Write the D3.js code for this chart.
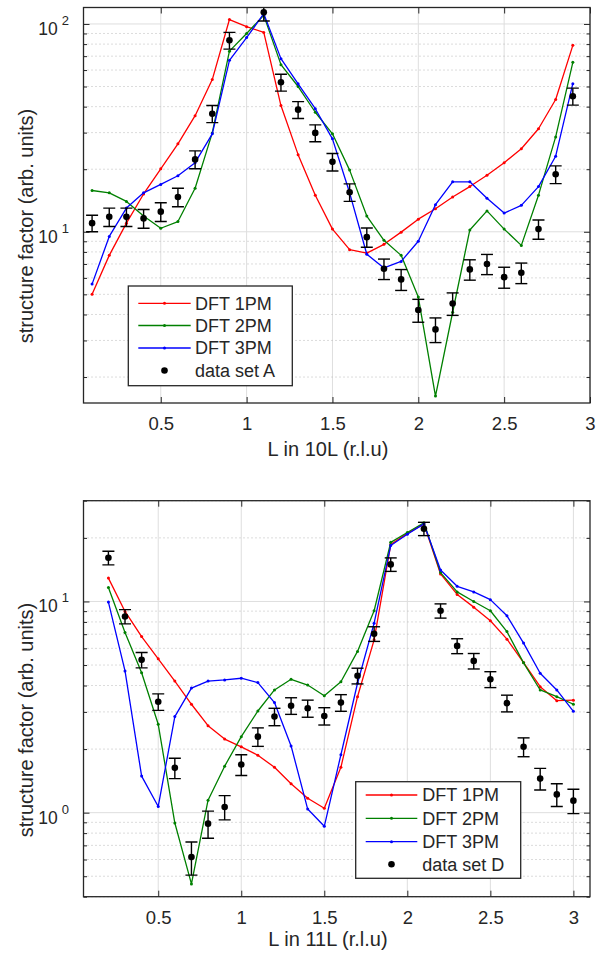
<!DOCTYPE html>
<html><head><meta charset="utf-8">
<script src="https://cdn.jsdelivr.net/npm/d3@7"></script>
<style>
body{margin:0;background:#fff}
text{font-family:"Liberation Sans",Arial,Helvetica,sans-serif;fill:#262626}
</style>
</head><body>
<svg id="c" width="607" height="955"></svg>
<script>
// ---------- DATA: top panel (10L) ----------
const xDFT_A = [0.1,0.2,0.3,0.4,0.5,0.6,0.7,0.8,0.9,1.0,1.1,1.2,1.3,1.4,1.5,1.6,1.7,1.8,1.9,2.0,2.1,2.2,2.3,2.4,2.5,2.6,2.7,2.8,2.9];
const dft1PM_A = [5.0,7.7,11.0,15.2,20.1,26.5,36.2,54,105,97,91,40.5,23.5,15.0,10.3,8.2,7.9,8.7,9.96,11.5,12.9,14.7,16.5,18.7,21.5,25.1,31.3,43.3,78.9];
const dft2PM_A = [15.8,15.4,14.0,11.9,10.4,11.2,16.2,29.9,74,90,110,63.7,50,37.6,29.6,19.8,11.9,9.1,7.7,4.85,1.62,4.1,10.2,12.6,10.3,8.6,15.0,28.6,65.4];
const dft3PM_A = [5.6,9.5,13.0,15.4,16.9,18.6,21.5,29.6,66.8,86,112,68.1,51.5,39.1,28.0,15.4,7.8,6.7,7.2,9.0,13.5,17.4,17.4,14.5,12.3,13.4,16.5,23.1,51.6];
const xSetA   = [0.1,0.2,0.3,0.4,0.5,0.6,0.7,0.8,0.9,1.1,1.2,1.3,1.4,1.5,1.6,1.7,1.8,1.9,2.0,2.1,2.2,2.3,2.4,2.5,2.6,2.7,2.8,2.9];
const setA    = [11.0,11.8,11.8,11.6,12.5,14.7,22.3,37.0,83.4,113.7,52.4,38.7,29.9,21.7,15.5,9.42,6.64,5.9,4.2,3.39,4.52,6.59,7.0,6.05,6.35,10.3,18.9,44.9];
const errA    = [1.0,1.2,1.2,1.2,1.3,1.5,2.2,3.5,7.7,10.4,4.9,3.6,2.8,2.1,1.5,1.0,0.75,0.68,0.53,0.46,0.56,0.74,0.78,0.7,0.72,1.1,1.85,4.2];

// ---------- DATA: bottom panel (11L) ----------
const xDFT_D = [0.2,0.3,0.4,0.5,0.6,0.7,0.8,0.9,1.0,1.1,1.2,1.3,1.4,1.5,1.6,1.7,1.8,1.9,2.0,2.1,2.2,2.3,2.4,2.5,2.6,2.7,2.8,2.9,3.0];
const dft1PM_D = [12.9,8.97,6.82,5.35,4.2,3.26,2.58,2.23,2.05,1.87,1.64,1.37,1.17,1.05,1.64,3.54,6.58,18.6,21.0,23.3,13.5,10.8,9.4,8.1,6.63,5.14,3.95,3.39,3.41];
const dft2PM_D = [11.65,7.13,4.6,2.62,0.893,0.46,1.145,1.66,2.29,3.03,3.81,4.28,4.02,3.58,4.17,5.8,9.04,19.05,21.2,23.6,13.7,11.1,10.0,9.04,7.2,5.12,3.81,3.54,3.26];
const dft3PM_D = [9.93,4.69,1.49,1.07,2.85,3.89,4.2,4.25,4.33,4.13,3.32,2.07,1.04,0.862,1.88,4.1,7.89,18.4,20.8,23.3,14.1,11.8,11.1,10.2,8.55,6.35,4.57,3.81,3.02];
const xSetD   = [0.2,0.3,0.4,0.5,0.6,0.7,0.8,0.9,1.0,1.1,1.2,1.3,1.4,1.5,1.6,1.7,1.8,1.9,2.1,2.2,2.3,2.4,2.5,2.6,2.7,2.8,2.9,3.0];
const setD    = [16.1,8.49,5.29,3.35,1.63,0.616,0.887,1.064,1.69,2.29,2.85,3.21,3.12,2.87,3.32,4.45,7.03,14.98,22.1,9.04,6.16,5.23,4.28,3.3,2.05,1.45,1.22,1.14];
const errD    = [1.2,0.66,0.44,0.3,0.18,0.11,0.13,0.14,0.19,0.23,0.27,0.29,0.29,0.27,0.3,0.38,0.56,1.1,1.6,0.7,0.5,0.44,0.37,0.3,0.21,0.17,0.15,0.15];

const xTicks = [0.5,1,1.5,2,2.5,3];
const seriesNames = ["DFT 1PM","DFT 2PM","DFT 3PM"];
const seriesColors = ["#ff0000","#008000","#0000ff"];

const svg = d3.select("#c");
const AX = "#262626";
const FT = 18.5, FL = 20, FG = 18;

function panel(cfg){
  const {l,t,r,b} = cfg.box;
  const x = d3.scaleLinear().domain(cfg.xDomain).range([l,r]);
  const y = d3.scaleLog().domain(cfg.yDomain).range([b,t]);
  const g = svg.append("g");
  const clipId = "clip"+cfg.id;
  g.append("clipPath").attr("id",clipId).append("rect").attr("x",l).attr("y",t).attr("width",r-l).attr("height",b-t);

  const [y0,y1] = cfg.yDomain;
  const majorY = [], minorY = [];
  for(let e=Math.floor(Math.log10(y0)); e<=Math.ceil(Math.log10(y1)); e++){
    for(let m=1;m<=9;m++){
      const v = m*Math.pow(10,e);
      if(v<y0*0.999||v>y1*1.001) continue;
      (m===1?majorY:minorY).push(v);
    }
  }
  // grid
  g.selectAll(".gx").data(xTicks).join("line").attr("x1",d=>x(d)).attr("x2",d=>x(d)).attr("y1",t).attr("y2",b)
    .attr("stroke","#dedede").attr("stroke-width",1);
  g.selectAll(".gmin").data(minorY).join("line").attr("x1",l).attr("x2",r).attr("y1",d=>y(d)).attr("y2",d=>y(d))
    .attr("stroke","#b8b8b8").attr("stroke-width",1).attr("stroke-dasharray","1,3");
  g.selectAll(".gmaj").data(majorY).join("line").attr("x1",l).attr("x2",r).attr("y1",d=>y(d)).attr("y2",d=>y(d))
    .attr("stroke","#dedede").attr("stroke-width",1);

  const ax = [
    g.append("g").attr("transform",`translate(0,${b})`).call(d3.axisBottom(x).tickValues(xTicks).tickSize(-6).tickPadding(14).tickFormat(d3.format("~g"))),
    g.append("g").attr("transform",`translate(0,${t})`).call(d3.axisTop(x).tickValues(xTicks).tickSize(-6).tickFormat("")),
    g.append("g").attr("transform",`translate(${l},0)`).call(d3.axisLeft(y).tickValues(majorY).tickSize(-6).tickFormat("")),
    g.append("g").attr("transform",`translate(${r},0)`).call(d3.axisRight(y).tickValues(majorY).tickSize(-6).tickFormat("")),
    g.append("g").attr("transform",`translate(${l},0)`).call(d3.axisLeft(y).tickValues(minorY).tickSize(-3.5).tickFormat("")),
    g.append("g").attr("transform",`translate(${r},0)`).call(d3.axisRight(y).tickValues(minorY).tickSize(-3.5).tickFormat(""))
  ];
  ax.forEach(a=>{
    a.select(".domain").remove();
    a.attr("font-size",FT).attr("font-family",null);
    a.selectAll(".tick line").attr("stroke",AX).attr("stroke-width",1);
    a.selectAll(".tick text").attr("font-size",FT).attr("fill",AX);
  });

  // y tick labels 10^n
  majorY.forEach(v=>{
    const e = Math.round(Math.log10(v));
    const tx = g.append("text").attr("x",69).attr("y",y(v)+11).attr("text-anchor","end").attr("font-size",17.5);
    tx.append("tspan").text("10");
    tx.append("tspan").attr("font-size",13).attr("dx",4).attr("dy",-10).text(String(e));
  });

  const pg = g.append("g").attr("clip-path",`url(#${clipId})`);
  cfg.series.forEach((s,i)=>{
    const pts = cfg.xs.map((xx,k)=>[xx,s[k]]);
    pg.append("path").datum(pts)
      .attr("d",d3.line().x(d=>x(d[0])).y(d=>y(d[1])))
      .attr("fill","none").attr("stroke",seriesColors[i]).attr("stroke-width",1.3).attr("stroke-linejoin","round");
    pg.selectAll(null).data(pts).join("circle").attr("cx",d=>x(d[0])).attr("cy",d=>y(d[1])).attr("r",1.5).attr("fill",seriesColors[i]);
  });
  const dpts = cfg.dx.map((xx,k)=>({x:xx,v:cfg.dv[k],e:cfg.de[k]}));
  const eb = pg.selectAll(null).data(dpts).join("g").attr("stroke","#000").attr("stroke-width",1.4);
  eb.append("line").attr("x1",d=>x(d.x)).attr("x2",d=>x(d.x)).attr("y1",d=>y(d.v-d.e)).attr("y2",d=>y(d.v+d.e));
  eb.append("line").attr("x1",d=>x(d.x)-6).attr("x2",d=>x(d.x)+6).attr("y1",d=>y(d.v-d.e)).attr("y2",d=>y(d.v-d.e));
  eb.append("line").attr("x1",d=>x(d.x)-6).attr("x2",d=>x(d.x)+6).attr("y1",d=>y(d.v+d.e)).attr("y2",d=>y(d.v+d.e));
  pg.selectAll(null).data(dpts).join("circle").attr("cx",d=>x(d.x)).attr("cy",d=>y(d.v)).attr("r",3.3).attr("fill","#000");

  g.append("rect").attr("x",l).attr("y",t).attr("width",r-l).attr("height",b-t).attr("fill","none").attr("stroke",AX).attr("stroke-width",1.3);

  g.append("text").attr("x",cfg.xlabelX).attr("y",cfg.xlabelY).attr("text-anchor","middle").attr("font-size",FL).text(cfg.xlabel);
  g.append("text").attr("transform",`translate(33,${cfg.ylabelCY}) rotate(-90)`).attr("text-anchor","middle").attr("font-size",FL).text("structure factor (arb. units)");

  const L = cfg.legend;
  const lg = g.append("g");
  lg.append("rect").attr("x",L.x).attr("y",L.y).attr("width",L.w).attr("height",L.h).attr("fill","#fff").attr("stroke",AX).attr("stroke-width",1.3);
  const names = seriesNames.concat([cfg.dataName]);
  names.forEach((nm,i)=>{
    const ry = L.rows[i];
    if(i<3){
      lg.append("line").attr("x1",L.lx1).attr("x2",L.lx2).attr("y1",ry).attr("y2",ry).attr("stroke",seriesColors[i]).attr("stroke-width",1.3);
      lg.append("circle").attr("cx",(L.lx1+L.lx2)/2).attr("cy",ry).attr("r",1.5).attr("fill",seriesColors[i]);
    } else {
      lg.append("circle").attr("cx",(L.lx1+L.lx2)/2).attr("cy",ry).attr("r",3.3).attr("fill","#000");
    }
    lg.append("text").attr("x",L.tx).attr("y",ry).attr("dy","0.36em").attr("font-size",FG).text(nm);
  });
}

panel({
  id:"A", box:{l:83.5,t:7.5,r:590,b:403}, xDomain:[0.05,3.0], yDomain:[1.5,120],
  xs:xDFT_A, series:[dft1PM_A,dft2PM_A,dft3PM_A], dx:xSetA, dv:setA, de:errA,
  xlabel:"L in 10L (r.l.u)", xlabelX:328, xlabelY:455.5, ylabelCY:226, dataName:"data set A",
  legend:{x:128.3,y:286,w:164,h:99.7,rows:[303.3,325.5,348,370.5],lx1:138.3,lx2:190.7,tx:195}
});
panel({
  id:"D", box:{l:83.5,t:500.7,r:590,b:896.7}, xDomain:[0.05,3.1], yDomain:[0.4,30],
  xs:xDFT_D, series:[dft1PM_D,dft2PM_D,dft3PM_D], dx:xSetD, dv:setD, de:errD,
  xlabel:"L in 11L (r.l.u)", xlabelX:328, xlabelY:945.5, ylabelCY:720, dataName:"data set D",
  legend:{x:355.7,y:781.7,w:165,h:96.6,rows:[795,818.3,841.7,864.3],lx1:365.7,lx2:417.3,tx:422.3}
});
</script>
</body></html>
